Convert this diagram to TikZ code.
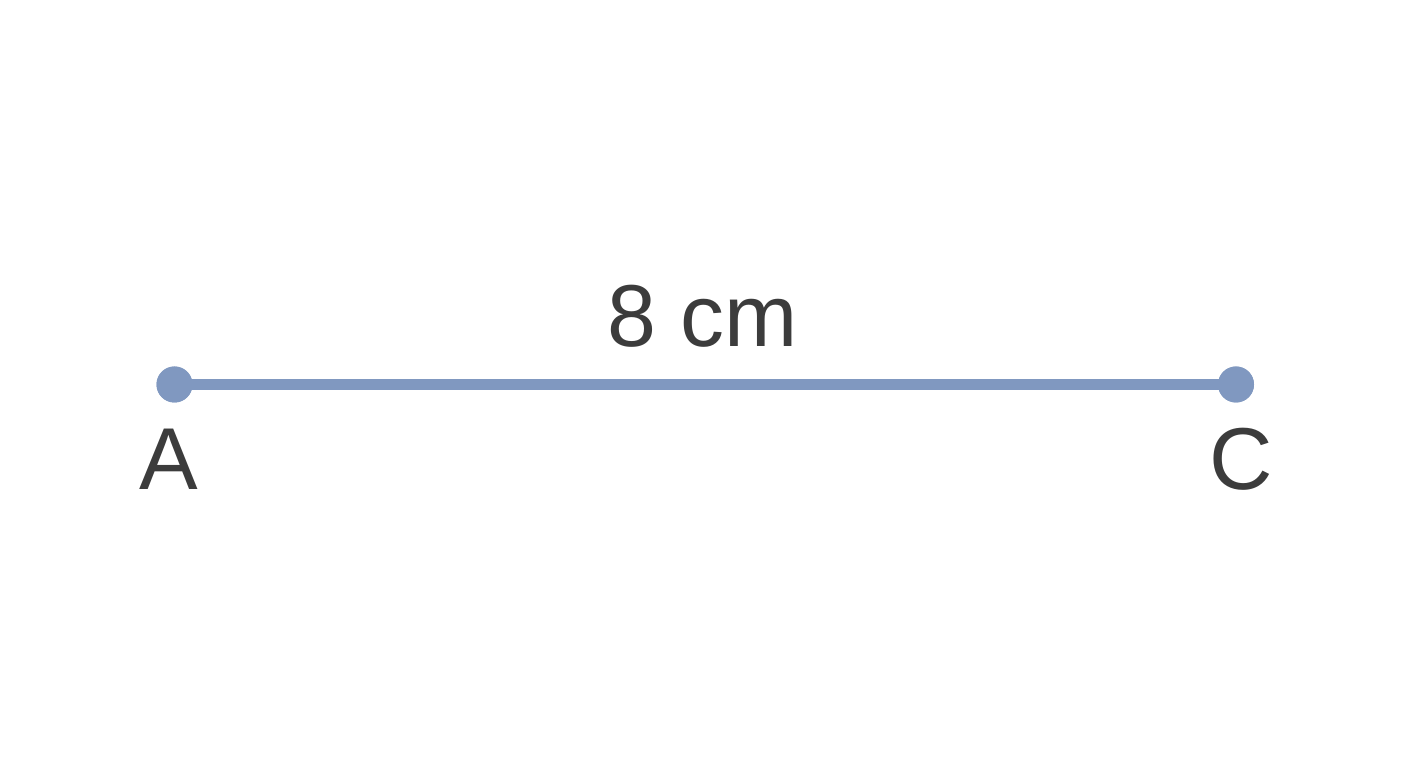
\documentclass[tikz,border=0pt]{standalone}
\usepackage{fontspec}
\setmainfont{Liberation Sans}
\usepackage{tikz}
\definecolor{segblue}{HTML}{8098C0}
\definecolor{txtgray}{HTML}{3C3C3C}

\begin{document}
\begin{tikzpicture}[
  dot/.style={circle,fill=segblue,inner sep=0pt,minimum size=0.36cm},
  lbl/.style={anchor=base,text=txtgray,font=\fontsize{25}{30}\selectfont}]

\useasboundingbox (0,0) rectangle (14.08,7.68);
\node[dot] (dotA) at (1.745,3.835) {};
\node[dot] (dotC) at (12.36,3.835) {};
\draw[segblue,line width=0.11cm] (dotA.center) -- (dotC.center);
\node[dot] at (dotA) {};
\node[dot] at (dotC) {};
\node[lbl] (lblLen) at (7.03,4.21) {8 cm};
\node[lbl] (lblA) at (1.685,2.78) {A};
\node[lbl] (lblC) at (12.41,2.78) {C};

\end{tikzpicture}
\end{document}
